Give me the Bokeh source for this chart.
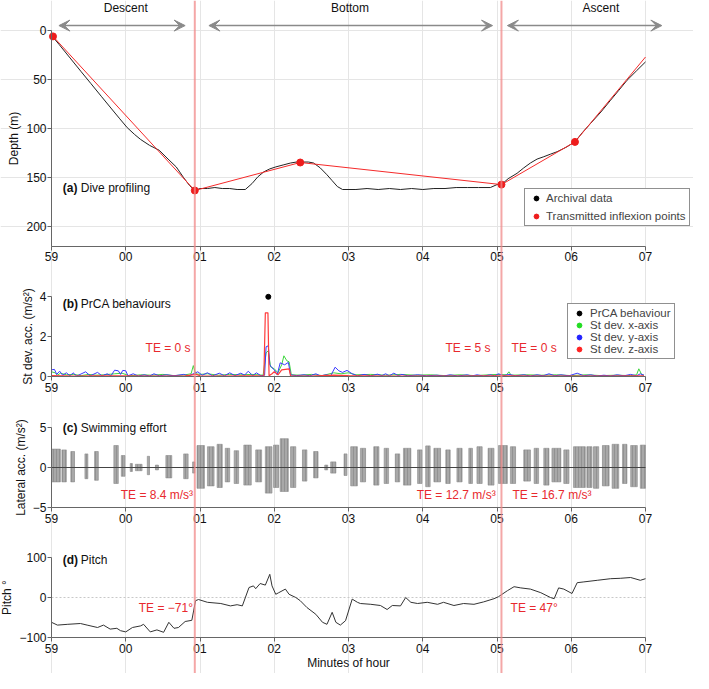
from bokeh.plotting import figure
from bokeh.models import (Range1d, LinearAxis, FixedTicker, Span, Label, Arrow,
                          VeeHead, Legend, LegendItem)
from bokeh.embed import file_html
from bokeh.resources import INLINE

FONT = "Liberation Sans"
TE_RED = "#e8292e"

# ---------------- data ----------------
minute_ticks = [0, 1, 2, 3, 4, 5, 6, 7, 8]
minute_labels = ["59", "00", "01", "02", "03", "04", "05", "06", "07"]
event_times = [1.93, 6.06]

phase_names = ["Descent", "Bottom", "Ascent"]
phase_center = [1.00, 4.02, 7.40]
phase_from = [0.10, 2.12, 6.14]
phase_to = [1.80, 5.94, 8.22]

# (a) dive profile
arch_t = [0.00, 0.10, 0.25, 0.40, 0.53, 0.67, 0.80, 0.92, 1.02, 1.12, 1.20, 1.32, 1.45, 1.57, 1.68, 1.78, 1.86, 1.93,
          2.00, 2.10, 2.20, 2.30, 2.40, 2.50, 2.61, 2.70, 2.78, 2.86, 2.94, 3.02, 3.12, 3.22, 3.30, 3.38, 3.46, 3.53,
          3.62, 3.71, 3.78, 3.85, 3.92, 3.98, 4.10, 4.25, 4.40, 4.55, 4.70, 4.85, 5.00, 5.15, 5.30, 5.45, 5.60, 5.75,
          5.91, 6.00, 6.06, 6.15, 6.27, 6.36, 6.45, 6.54, 6.63, 6.72, 6.81, 6.93, 7.05, 7.15, 7.26, 7.40, 7.53, 7.64,
          7.75, 7.88, 8.00]
arch_depth = [5, 14, 28, 42, 54, 67, 79, 90, 99, 106, 111, 117, 122, 131, 139, 150, 158, 163,
              161, 161, 160, 161, 161, 162, 162, 156, 149, 144, 141, 139, 137, 135, 134, 134, 134, 135,
              140, 147, 153, 159, 162, 162, 162, 161, 162, 161, 162, 161, 162, 161, 161, 160, 160, 160,
              160, 157, 157, 151, 145.5, 140, 135, 131, 128.6, 126, 123.5, 119, 113.4, 104, 94.7, 83, 71, 61,
              50.8, 41, 32]
infl_t = [0.02, 1.93, 3.35, 6.06, 7.05, 8.00]
infl_depth = [6, 163, 134.5, 157, 113.5, 27]
n_sent = 5  # transmitted points shown as dots

# (b) PrCA behaviours: standard deviations of acceleration (m/s^2)
sdx_t = [0.00, 0.05, 0.08, 0.12, 0.20, 0.30, 0.40, 0.50, 0.60, 0.70, 0.85, 0.95, 1.05, 1.20, 1.35, 1.50, 1.65, 1.80,
         1.88, 1.91, 1.94, 2.00, 2.10, 2.25, 2.40, 2.55, 2.70, 2.85, 2.89, 2.92, 2.95, 3.00, 3.05, 3.10, 3.13, 3.17,
         3.20, 3.23, 3.35, 3.50, 3.65, 3.80, 3.90, 4.00, 4.10, 4.30, 4.50, 4.70, 4.90, 5.10, 5.30, 5.50, 5.70, 5.90,
         6.00, 6.13, 6.16, 6.19, 6.40, 6.60, 6.80, 7.00, 7.20, 7.40, 7.60, 7.80, 7.88, 7.91, 7.95, 7.98]
sdx_v = [0.25, 0.20, 0.08, 0.18, 0.10, 0.12, 0.06, 0.12, 0.08, 0.10, 0.15, 0.18, 0.05, 0.10, 0.08, 0.12, 0.06, 0.10,
         0.15, 0.56, 0.15, 0.12, 0.15, 0.08, 0.12, 0.10, 0.12, 0.08, 1.20, 1.30, 0.50, 0.40, 0.20, 0.60, 1.05, 0.80,
         0.75, 0.10, 0.08, 0.12, 0.06, 0.20, 0.15, 0.20, 0.10, 0.12, 0.08, 0.12, 0.08, 0.10, 0.06, 0.10, 0.06, 0.10,
         0.12, 0.10, 0.25, 0.08, 0.10, 0.08, 0.10, 0.06, 0.10, 0.06, 0.08, 0.06, 0.10, 0.40, 0.10, 0.08]
sdy_t = [0.00, 0.04, 0.07, 0.11, 0.15, 0.20, 0.25, 0.29, 0.34, 0.46, 0.52, 0.62, 0.68, 0.75, 0.80, 0.85, 0.90, 0.93,
         0.96, 1.00, 1.03, 1.10, 1.17, 1.25, 1.32, 1.38, 1.45, 1.55, 1.65, 1.78, 1.85, 1.97, 2.03, 2.10, 2.17, 2.26,
         2.33, 2.40, 2.47, 2.55, 2.60, 2.65, 2.71, 2.76, 2.82, 2.87, 2.89, 2.92, 2.94, 2.97, 3.00, 3.04, 3.08, 3.14,
         3.19, 3.22, 3.30, 3.40, 3.48, 3.56, 3.62, 3.70, 3.76, 3.82, 3.87, 3.92, 3.98, 4.05, 4.12, 4.21, 4.30, 4.39,
         4.45, 4.50, 4.55, 4.61, 4.67, 4.72, 4.80, 4.93, 5.05, 5.19, 5.28, 5.37, 5.47, 5.60, 5.66, 5.73, 5.82, 5.91,
         5.97, 6.02, 6.09, 6.16, 6.25, 6.36, 6.45, 6.54, 6.62, 6.70, 6.78, 6.86, 6.97, 7.08, 7.17, 7.26, 7.35, 7.44,
         7.53, 7.62, 7.71, 7.80, 7.88, 7.93, 7.98]
sdy_v = [0.35, 0.37, 0.12, 0.28, 0.08, 0.20, 0.05, 0.20, 0.04, 0.25, 0.05, 0.22, 0.05, 0.15, 0.05, 0.33, 0.30, 0.12,
         0.32, 0.30, 0.05, 0.15, 0.04, 0.10, 0.04, 0.15, 0.05, 0.10, 0.05, 0.12, 0.05, 0.25, 0.08, 0.20, 0.05, 0.18,
         0.05, 0.20, 0.06, 0.18, 0.08, 0.28, 0.06, 0.20, 0.05, 0.08, 1.50, 1.55, 0.60, 0.45, 0.35, 0.10, 0.70, 0.60,
         0.72, 0.10, 0.06, 0.10, 0.05, 0.15, 0.05, 0.10, 0.05, 0.48, 0.30, 0.22, 0.32, 0.15, 0.05, 0.12, 0.05, 0.13,
         0.06, 0.15, 0.05, 0.18, 0.06, 0.12, 0.05, 0.10, 0.05, 0.08, 0.04, 0.10, 0.04, 0.10, 0.04, 0.10, 0.04, 0.10,
         0.05, 0.15, 0.06, 0.12, 0.05, 0.10, 0.04, 0.10, 0.05, 0.15, 0.05, 0.10, 0.05, 0.18, 0.05, 0.10, 0.04, 0.08,
         0.04, 0.10, 0.05, 0.12, 0.05, 0.15, 0.08]
sdz_t = [0.00, 0.30, 0.60, 0.90, 1.20, 1.50, 1.80, 1.95, 2.00, 2.30, 2.60, 2.86, 2.88, 2.915, 2.93, 2.97, 3.00, 3.05,
         3.10, 3.20, 3.22, 3.50, 3.80, 4.00, 4.50, 5.00, 5.50, 6.00, 6.50, 7.00, 7.50, 7.98]
sdz_v = [0.06, 0.04, 0.05, 0.05, 0.03, 0.04, 0.05, 0.12, 0.05, 0.04, 0.05, 0.04, 3.20, 3.20, 0.05, 0.15, 0.25, 0.10,
         0.35, 0.40, 0.05, 0.04, 0.08, 0.06, 0.03, 0.04, 0.03, 0.05, 0.03, 0.04, 0.03, 0.05]
prca_t = [2.92]
prca_v = [4.0]

# (c) swimming effort: bursts of lateral acceleration (m/s^2)
burst_start = [0.00, 0.14, 0.26, 0.45, 0.58, 0.84, 0.94, 1.06, 1.13, 1.29, 1.40, 1.54, 1.78, 1.90, 1.96, 2.10, 2.23,
               2.34, 2.46, 2.59, 2.75, 2.88, 2.99, 3.08, 3.22, 3.38, 3.53, 3.68, 3.76, 3.94, 4.03, 4.16, 4.34, 4.48,
               4.63, 4.74, 4.93, 5.04, 5.15, 5.31, 5.46, 5.62, 5.73, 5.88, 6.02, 6.18, 6.36, 6.50, 6.63, 6.74, 6.90,
               7.03, 7.21, 7.30, 7.42, 7.55, 7.69, 7.80, 7.93]
burst_end = [0.12, 0.20, 0.31, 0.49, 0.63, 0.90, 0.99, 1.09, 1.22, 1.32, 1.44, 1.62, 1.84, 1.93, 2.06, 2.19, 2.30,
             2.40, 2.52, 2.69, 2.83, 2.97, 3.06, 3.19, 3.29, 3.44, 3.59, 3.72, 3.83, 3.98, 4.12, 4.23, 4.41, 4.54,
             4.69, 4.84, 4.99, 5.10, 5.24, 5.37, 5.53, 5.67, 5.80, 5.96, 6.14, 6.25, 6.45, 6.56, 6.70, 6.86, 6.97,
             7.19, 7.28, 7.37, 7.51, 7.64, 7.75, 7.89, 8.00]
burst_top = [2.3, 2.2, 2.0, 1.7, 2.0, 2.75, 1.5, 0.5, 0.4, 1.4, 0.3, 1.5, 1.7, 0.7, 2.75, 2.6, 2.9,
             2.4, 2.1, 2.8, 2.2, 2.6, 2.8, 3.6, 2.6, 2.2, 2.0, 0.3, 0.7, 1.7, 2.6, 2.4, 2.6, 2.4,
             1.7, 2.4, 2.2, 2.7, 2.4, 2.2, 2.4, 2.4, 2.6, 2.4, 2.75, 2.6, 2.2, 2.4, 2.4, 2.4, 2.2,
             2.6, 2.6, 2.6, 2.75, 2.9, 2.9, 2.75, 2.8]
burst_bottom = [-1.8, -1.8, -1.8, -1.4, -1.6, -2.0, -1.1, -0.5, -0.4, -0.9, -0.3, -1.3, -1.4, -0.7, -2.6, -2.3, -2.5,
                -1.8, -2.0, -2.2, -1.8, -3.2, -2.5, -3.0, -2.5, -1.7, -1.3, -0.3, -0.7, -1.0, -2.3, -1.8, -2.2, -2.0,
                -1.8, -2.2, -2.0, -2.4, -1.8, -2.0, -1.8, -2.0, -2.0, -2.2, -2.0, -2.0, -1.7, -2.0, -2.2, -1.8, -2.0,
                -2.5, -2.5, -2.6, -2.3, -2.6, -2.0, -2.4, -2.6]

# (d) pitch (degrees)
pitch_t = [0.00, 0.08, 0.22, 0.39, 0.48, 0.62, 0.70, 0.79, 0.88, 0.93, 1.00, 1.09, 1.20, 1.24, 1.33, 1.42, 1.51, 1.58,
           1.65, 1.71, 1.80, 1.89, 1.94, 1.98, 2.10, 2.28, 2.41, 2.50, 2.57, 2.66, 2.72, 2.75, 2.81, 2.88, 2.94, 2.97,
           3.02, 3.06, 3.15, 3.20, 3.29, 3.35, 3.44, 3.56, 3.65, 3.71, 3.78, 3.83, 3.89, 3.96, 4.05, 4.12, 4.16, 4.30,
           4.43, 4.52, 4.59, 4.70, 4.77, 4.84, 4.93, 5.06, 5.20, 5.28, 5.42, 5.55, 5.69, 5.82, 5.96, 6.02, 6.14, 6.23,
           6.32, 6.45, 6.59, 6.72, 6.77, 6.83, 6.90, 7.01, 7.08, 7.17, 7.35, 7.53, 7.66, 7.80, 7.93, 8.00]
pitch_v = [-62, -69, -67, -65, -69, -75, -69, -79, -77, -83, -86, -75, -71, -67, -86, -81, -87, -62,
           -77, -75, -60, -57, -8, -5, -12, -15, -21, -18, -21, 25, 29, 22, 35, 31, 58, 29,
           8, 12, 21, 8, 0, -8, -25, -42, -62, -67, -37, -62, -69, -58, -4, -12, -15, -17,
           -20, -30, -20, -21, 0, -12, -15, -12, -17, -12, -20, -15, -17, -11, -3, 2, 17, 27,
           24, 21, 12, 0, -3, 24, 21, 10, 37, 39, 43, 47, 48, 50, 43, 47]

te_b_text = ["TE = 0 s", "TE = 5 s", "TE = 0 s"]
te_b_x = [1.57, 5.61, 6.50]
te_b_y = 1.45
te_c_text = ["TE = 8.4 m/s\u00b3", "TE = 12.7 m/s\u00b3", "TE = 16.7 m/s\u00b3"]
te_c_x = [1.42, 5.45, 6.74]
te_c_y = -3.46
te_d_text = ["TE = \u221271\u00b0", "TE = 47\u00b0"]
te_d_x = [1.54, 6.50]
te_d_y = -25

# ---------------- layout ----------------
W, H = 693, 673
X0_PX, X8_PX = 51.0, 645.0          # screen x of minute 0 and minute 8
sx = 8.0 / (X8_PX - X0_PX)


def yrange(v1, p1, v2, p2):
    s = (v2 - v1) / (p2 - p1)
    return Range1d(start=v1 + s * (H - p1), end=v1 + s * (0 - p1))


p = figure(width=W, height=H,
           x_range=Range1d(-X0_PX * sx, (W - X0_PX) * sx),
           y_range=yrange(0, 30.0, 200, 226.3),
           x_axis_location=None, y_axis_location=None,
           toolbar_location=None, output_backend="svg",
           min_border=0, min_border_left=0, min_border_right=0,
           min_border_top=0, min_border_bottom=0,
           outline_line_color=None, background_fill_color="white",
           border_fill_color="white")
p.extra_y_ranges = {
    "b": yrange(4, 296.3, 0, 376.3),
    "c": yrange(5, 427.0, -5, 507.0),
    "d": yrange(100, 557.0, -100, 637.0),
}


def style_axis(ax):
    ax.axis_line_color = "#666666"
    ax.major_tick_line_color = "#666666"
    ax.minor_tick_line_color = None
    ax.major_tick_out = 4
    ax.major_tick_in = 0
    ax.major_label_text_font = FONT
    ax.major_label_text_font_size = "12px"
    ax.major_label_text_color = "#111111"
    ax.major_label_standoff = 1
    ax.axis_label_text_font = FONT
    ax.axis_label_text_font_size = "12px"
    ax.axis_label_text_font_style = "normal"
    ax.axis_label_text_color = "#111111"
    ax.axis_label_standoff = 2


def add_axes(rname, yticks, ylabels, ybounds, xloc, ylabel, xlabel=None):
    ya = LinearAxis(y_range_name=rname, fixed_location=0, bounds=ybounds,
                    ticker=FixedTicker(ticks=yticks, minor_ticks=[]),
                    major_label_overrides=dict(zip(yticks, ylabels)),
                    axis_label=ylabel)
    style_axis(ya)
    p.add_layout(ya, "left")
    xa = LinearAxis(y_range_name=rname, fixed_location=xloc, bounds=(0, 8),
                    ticker=FixedTicker(ticks=minute_ticks, minor_ticks=[]),
                    major_label_overrides=dict(zip(minute_ticks, minute_labels)),
                    axis_label=xlabel)
    style_axis(xa)
    xa.major_label_standoff = 2
    if xlabel:
        xa.axis_label_standoff = 0
    p.add_layout(xa, "below")


add_axes("default", [0, 50, 100, 150, 200], ["0", "50", "100", "150", "200"], (0, 220), 220, "Depth (m)")
add_axes("b", [0, 2, 4], ["0", "2", "4"], (0, 4), 0, "St dev. acc. (m/s\u00b2)")
add_axes("c", [-5, 0, 5], ["\u22125", "0", "5"], (-5, 5), -5, "Lateral acc. (m/s\u00b2)")
add_axes("d", [-100, 0, 100], ["\u2212100", "0", "100"], (-100, 100), -100, "Pitch \u00b0", "Minutes of hour")

# ---- (a) ----
p.line(arch_t, arch_depth, line_color="#222222", line_width=1)
p.line(infl_t, infl_depth, line_color="#f52a2a", line_width=1)
infl_dots = p.scatter(infl_t[:n_sent], infl_depth[:n_sent], size=7, color="#ee1c1c")
arch_proxy = p.scatter(arch_t, arch_depth, size=5, color="black", visible=False)

for name, c, a, b in zip(phase_names, phase_center, phase_from, phase_to):
    p.add_layout(Arrow(start=VeeHead(size=11, fill_color="#8a8a8a", line_color="#8a8a8a"),
                       end=VeeHead(size=11, fill_color="#8a8a8a", line_color="#8a8a8a"),
                       x_start=a, y_start=-5, x_end=b, y_end=-5,
                       line_color="#8a8a8a", line_width=1.5))
    p.add_layout(Label(x=c, y=-23, text=name, text_align="center", text_baseline="middle",
                       text_font=FONT, text_font_size="12px", text_color="#111111"))

# ---- (b) ----
p.line(sdx_t, sdx_v, y_range_name="b", line_color="#3ed63e", line_width=1)
p.line(sdy_t, sdy_v, y_range_name="b", line_color="#3b3bff", line_width=1)
p.line(sdz_t, sdz_v, y_range_name="b", line_color="#ff3b3b", line_width=1.2)
prca = p.scatter(prca_t, prca_v, y_range_name="b", size=5, color="black")
gx = p.scatter(sdx_t, sdx_v, y_range_name="b", color="#22dd22", visible=False)
gy = p.scatter(sdy_t, sdy_v, y_range_name="b", color="#2222ff", visible=False)
gz = p.scatter(sdz_t, sdz_v, y_range_name="b", color="#ff2222", visible=False)

# ---- (c) ----
p.quad(left=burst_start, right=burst_end, top=burst_top, bottom=burst_bottom, y_range_name="c",
       fill_color="#a8a8a8", line_color="#8c8c8c", line_width=0.6,
       hatch_pattern="vertical_line", hatch_color="#6e6e6e", hatch_alpha=0.55,
       hatch_scale=3, hatch_weight=0.7)
p.line([burst_start[0], burst_end[-1]], [0, 0], y_range_name="c", line_color="#444444", line_width=1)

# ---- (d) ----
p.line([pitch_t[0], pitch_t[-1]], [0, 0], y_range_name="d", line_color="#c8c8c8", line_dash="2 2", line_width=1)
p.line(pitch_t, pitch_v, y_range_name="d", line_color="#333333", line_width=1)

# ---- event lines ----
for t in event_times:
    p.add_layout(Span(location=t, dimension="height", line_color="#f08a8a", line_alpha=0.75, line_width=2))

# ---- panel titles ----
panel_tags = ["(a)", "(b)", "(c)", "(d)"]
panel_titles = ["Dive profiling", "PrCA behaviours", "Swimming effort", "Pitch"]
panel_ranges = ["default", "b", "c", "d"]
panel_title_y = [160.7, 3.65, 4.9, 94]
for tag, title, rn, yy in zip(panel_tags, panel_titles, panel_ranges, panel_title_y):
    p.add_layout(Label(x=0.152, y=yy, y_range_name=rn, text=tag, text_font=FONT, text_font_size="12px",
                       text_font_style="bold", text_baseline="middle", text_color="#111111"))
    p.add_layout(Label(x=0.152, y=yy, y_range_name=rn, x_offset=18, text=title, text_font=FONT,
                       text_font_size="12px", text_baseline="middle", text_color="#111111"))

# ---- TE labels ----
for texts, xs, yy, rn in [(te_b_text, te_b_x, te_b_y, "b"), (te_c_text, te_c_x, te_c_y, "c"),
                          (te_d_text, te_d_x, te_d_y, "d")]:
    for tx, xx in zip(texts, xs):
        p.add_layout(Label(x=xx, y=yy, y_range_name=rn, text=tx, text_align="center",
                           text_baseline="middle", text_font=FONT, text_font_size="12px",
                           text_color=TE_RED))

# ---- legends ----
leg_a = Legend(items=[LegendItem(label="Archival data", renderers=[arch_proxy]),
                      LegendItem(label="Transmitted inflexion points", renderers=[infl_dots])],
               location=(524, 447), padding=3, spacing=6, margin=0,
               label_height=12, glyph_height=12, glyph_width=16, label_standoff=2,
               label_text_font=FONT, label_text_font_size="11.5px",
               border_line_color="#222222", border_line_width=1, background_fill_alpha=1)
leg_b = Legend(items=[LegendItem(label="PrCA behaviour", renderers=[prca]),
                      LegendItem(label="St dev. x-axis", renderers=[gx]),
                      LegendItem(label="St dev. y-axis", renderers=[gy]),
                      LegendItem(label="St dev. z-axis", renderers=[gz])],
               location=(567, 314), padding=3, spacing=0, margin=0,
               label_height=11, glyph_height=12, glyph_width=16, label_standoff=3,
               label_text_font=FONT, label_text_font_size="11.5px",
               border_line_color="#222222", border_line_width=1, background_fill_alpha=1)
p.add_layout(leg_a)
p.add_layout(leg_b)

open("out.html", "w").write(file_html(p, INLINE))
